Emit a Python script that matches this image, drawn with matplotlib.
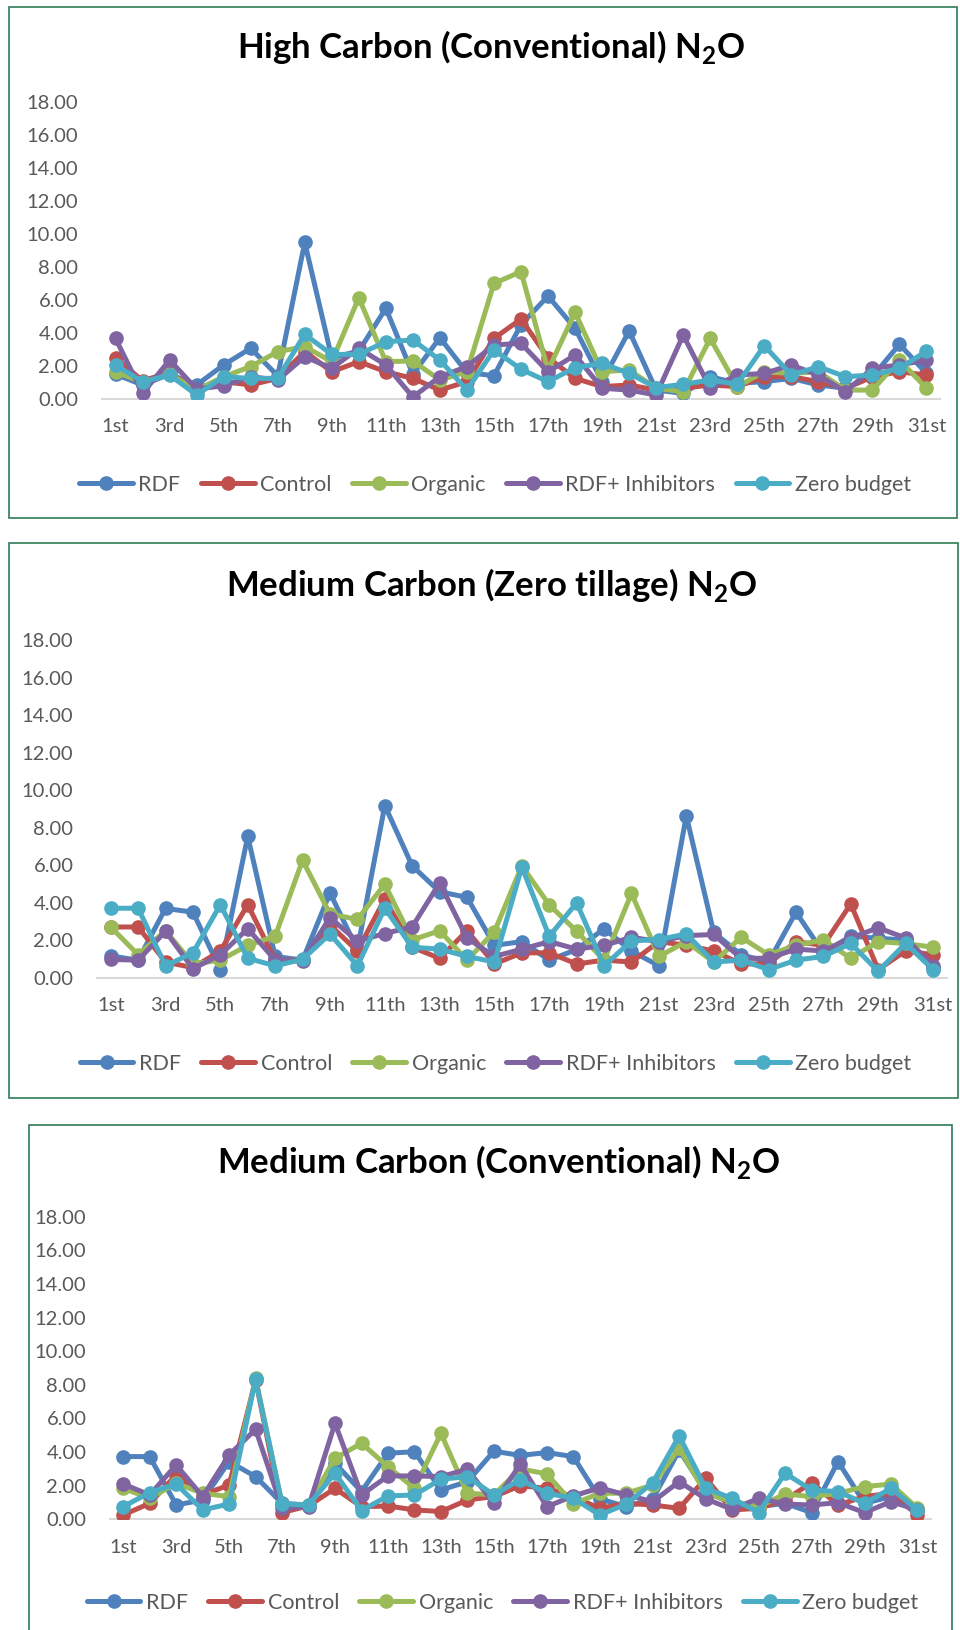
import matplotlib
matplotlib.use("Agg")
import matplotlib.pyplot as plt
from matplotlib.patches import Rectangle

plt.rcParams['font.family'] = ['Lato', 'DejaVu Sans']
plt.rcParams['mathtext.fontset'] = 'custom'
plt.rcParams['mathtext.rm'] = 'Lato'
plt.rcParams['mathtext.bf'] = 'Lato:bold'

W, H = 960, 1630

days = list(range(1, 32))
day_labels = ['1st', '3rd', '5th', '7th', '9th', '11th', '13th', '15th',
              '17th', '19th', '21st', '23rd', '25th', '27th', '29th', '31st']
series_names = ['RDF', 'Control', 'Organic', 'RDF+ Inhibitors', 'Zero budget']
colors = ['#4F81BD', '#C0504D', '#9BBB59', '#8064A2', '#4BACC6']
yticks = [0, 2, 4, 6, 8, 10, 12, 14, 16, 18]

# High Carbon (Conventional)
hc_rdf = [1.5, 0.85, 1.5, 0.85, 2.06, 3.07, 1.4, 9.48, 2.5, 2.9, 5.49, 1.5, 3.71, 1.6, 1.41, 4.5,
          6.23, 4.28, 1.05, 4.12, 0.54, 0.34, 1.35, 0.95, 1.05, 1.25, 0.85, 0.65, 1.35, 3.31, 1.55]
hc_control = [2.5, 1.1, 1.6, 0.5, 1.05, 0.85, 1.25, 2.87, 1.65, 2.26, 1.65, 1.25, 0.54, 1.05, 3.67, 4.84,
              2.5, 1.25, 0.75, 0.85, 0.54, 0.65, 0.85, 0.75, 1.35, 1.35, 1.05, 0.65, 1.35, 1.65, 1.45]
hc_organic = [1.65, 1.0, 1.5, 0.55, 1.35, 1.96, 2.87, 3.17, 2.26, 6.13, 2.26, 2.3, 1.15, 1.65, 7.0, 7.71,
              1.75, 5.25, 1.65, 1.76, 0.65, 0.44, 3.67, 0.75, 1.65, 1.55, 1.65, 0.54, 0.54, 2.36, 0.65]
hc_inhib = [3.67, 0.34, 2.36, 0.6, 0.8, 1.35, 1.15, 2.56, 1.86, 3.07, 2.06, 0.12, 1.35, 1.96, 3.27, 3.37,
            1.65, 2.66, 0.65, 0.54, 0.24, 3.87, 0.65, 1.45, 1.55, 2.06, 1.45, 0.44, 1.86, 2.06, 2.36]
hc_zero = [2.06, 1.05, 1.45, 0.25, 1.35, 1.25, 1.25, 3.91, 2.7, 2.7, 3.47, 3.57, 2.36, 0.54, 2.97, 1.8,
           1.05, 1.9, 2.16, 1.55, 0.69, 0.89, 1.15, 0.89, 3.23, 1.45, 1.96, 1.35, 1.45, 1.86, 2.9]

# Medium Carbon (Zero tillage)
mz_rdf = [1.16, 0.93, 3.69, 3.49, 0.43, 7.54, 1.13, 0.93, 4.52, 1.5, 9.18, 5.96, 4.58, 4.28, 1.72, 1.92,
          0.93, 1.5, 2.61, 1.42, 0.63, 8.63, 2.41, 1.22, 0.83, 3.49, 1.32, 2.21, 2.1, 2.0, 0.53]
mz_control = [2.7, 2.7, 0.83, 0.53, 1.42, 3.89, 0.93, 0.93, 2.8, 1.42, 4.2, 1.62, 1.03, 2.5, 0.73, 1.32,
              1.32, 0.73, 0.93, 0.83, 1.92, 1.72, 1.42, 0.73, 0.73, 1.92, 1.72, 3.93, 0.43, 1.42, 1.22]
mz_organic = [2.7, 1.22, 2.5, 0.73, 0.93, 1.72, 2.21, 6.26, 3.4, 3.1, 4.98, 2.01, 2.5, 0.93, 2.45, 5.96,
              3.88, 2.47, 0.93, 4.49, 1.13, 1.92, 0.83, 2.15, 1.22, 1.72, 2.01, 1.03, 1.92, 1.82, 1.62]
mz_inhib = [0.97, 0.93, 2.47, 0.47, 1.22, 2.61, 0.93, 0.89, 3.2, 1.95, 2.35, 2.71, 5.05, 2.11, 1.13, 1.52,
            1.92, 1.52, 1.72, 2.15, 1.92, 2.24, 2.3, 1.03, 1.03, 1.52, 1.42, 2.11, 2.66, 2.11, 0.63]
mz_zero = [3.7, 3.7, 0.63, 1.32, 3.89, 1.03, 0.63, 0.97, 2.33, 0.63, 3.7, 1.62, 1.52, 1.13, 0.83, 5.9,
           2.2, 3.99, 0.63, 1.96, 2.03, 2.33, 0.83, 0.93, 0.43, 0.93, 1.13, 1.82, 0.34, 1.82, 0.43]

# Medium Carbon (Conventional)
mc_rdf = [3.73, 3.73, 0.85, 1.15, 3.43, 2.54, 0.95, 0.85, 3.33, 1.65, 3.93, 4.02, 1.74, 2.24, 4.05, 3.8,
          3.97, 3.73, 1.22, 0.75, 1.2, 4.1, 1.65, 0.95, 0.75, 0.95, 0.4, 3.43, 0.95, 1.35, 0.56]
mc_control = [0.26, 0.95, 2.64, 1.45, 2.04, 8.29, 0.4, 0.8, 1.84, 0.75, 0.79, 0.56, 0.46, 1.15, 1.35, 2.0,
              1.84, 1.35, 0.65, 0.95, 0.85, 0.65, 2.44, 0.56, 0.65, 1.15, 2.18, 0.85, 1.35, 1.55, 0.26]
mc_organic = [1.84, 1.25, 2.14, 1.55, 1.35, 8.39, 0.9, 0.85, 3.63, 4.52, 3.13, 1.84, 5.11, 1.55, 1.45, 3.0,
              2.7, 0.91, 1.55, 1.55, 2.04, 4.22, 1.55, 1.05, 0.75, 1.51, 1.35, 1.55, 1.94, 2.1, 0.65]
mc_inhib = [2.1, 1.45, 3.23, 1.35, 3.83, 5.35, 0.65, 0.75, 5.71, 1.45, 2.58, 2.58, 2.54, 2.97, 0.95, 3.28,
            0.75, 1.39, 1.87, 1.45, 1.05, 2.24, 1.22, 0.59, 1.25, 0.91, 0.85, 0.99, 0.4, 1.05, 0.56]
mc_zero = [0.75, 1.59, 2.1, 0.56, 0.91, 8.33, 0.91, 0.85, 2.74, 0.52, 1.39, 1.45, 2.38, 2.54, 1.45, 2.36,
           1.55, 1.25, 0.26, 0.9, 2.18, 4.96, 1.84, 1.25, 0.4, 2.74, 1.74, 1.65, 0.95, 1.84, 0.56]


def fx(x):
    return x / W


def fy(y):
    return 1 - y / H


def draw_panel(fig, border, axbox, title, title_y, legend_y, data):
    # border: (left, top, right, bottom) px ; axbox: (left, right, y0, y18) px
    l, t, r, b = border
    fig.patches.append(Rectangle((fx(l), fy(b)), fx(r - l), (b - t) / H, transform=fig.transFigure,
                                 fill=False, edgecolor='#2E7D55', linewidth=1.2))
    al, ar, y0, y18 = axbox
    ax = fig.add_axes([fx(al), fy(y0), fx(ar - al), (y0 - y18) / H])
    for vals, name, c in zip(data, series_names, colors):
        ax.plot(days, vals, color=c, lw=3.6, marker='o', ms=9.5, label=name,
                solid_capstyle='round', solid_joinstyle='round')
    ax.set_xlim(0.5, 31.5)
    ax.set_ylim(0, 18)
    ax.set_yticks(yticks)
    ax.set_yticklabels([f'{v:.2f}' for v in yticks])
    ax.set_xticks(days[::2])
    ax.set_xticklabels(day_labels)
    ax.tick_params(axis='both', length=0, labelsize=14.5, labelcolor='#595959')
    ax.tick_params(axis='y', pad=17)
    ax.tick_params(axis='x', pad=14)
    for s in ['top', 'right', 'left']:
        ax.spines[s].set_visible(False)
    ax.spines['bottom'].set_color('#D9D9D9')
    ax.spines['bottom'].set_linewidth(1.5)
    ax.spines['bottom'].set_zorder(0)
    ax.patch.set_alpha(0)
    fig.text(fx((l + r) / 2 + 8), fy(title_y), title, ha='center', va='center',
             fontsize=25, fontweight='bold', color='black')
    fig.legend(*ax.get_legend_handles_labels(), loc='center', ncol=5, frameon=False,
               bbox_to_anchor=(fx((l + r) / 2 + 12), fy(legend_y)), fontsize=15.5,
               labelcolor='#595959', handlelength=2.5, handletextpad=0.25,
               columnspacing=0.95, borderaxespad=0)
    return ax


fig = plt.figure(figsize=(W / 100, H / 100), dpi=100)
fig.patch.set_facecolor('white')

draw_panel(fig, (9, 7, 957, 518), (102, 940, 399, 101.7),
           r'High Carbon (Conventional) N$_{\mathbf{2}}$O', 47, 485,
           [hc_rdf, hc_control, hc_organic, hc_inhib, hc_zero])
draw_panel(fig, (9, 543, 958, 1098), (97, 946.7, 977.6, 640.2),
           r'Medium Carbon (Zero tillage) N$_{\mathbf{2}}$O', 585, 1064,
           [mz_rdf, mz_control, mz_organic, mz_inhib, mz_zero])
draw_panel(fig, (29, 1125, 952, 1650), (110, 930.7, 1519.3, 1216.7),
           r'Medium Carbon (Conventional) N$_{\mathbf{2}}$O', 1162, 1603,
           [mc_rdf, mc_control, mc_organic, mc_inhib, mc_zero])

fig.savefig('out.png', dpi=100, facecolor='white')
